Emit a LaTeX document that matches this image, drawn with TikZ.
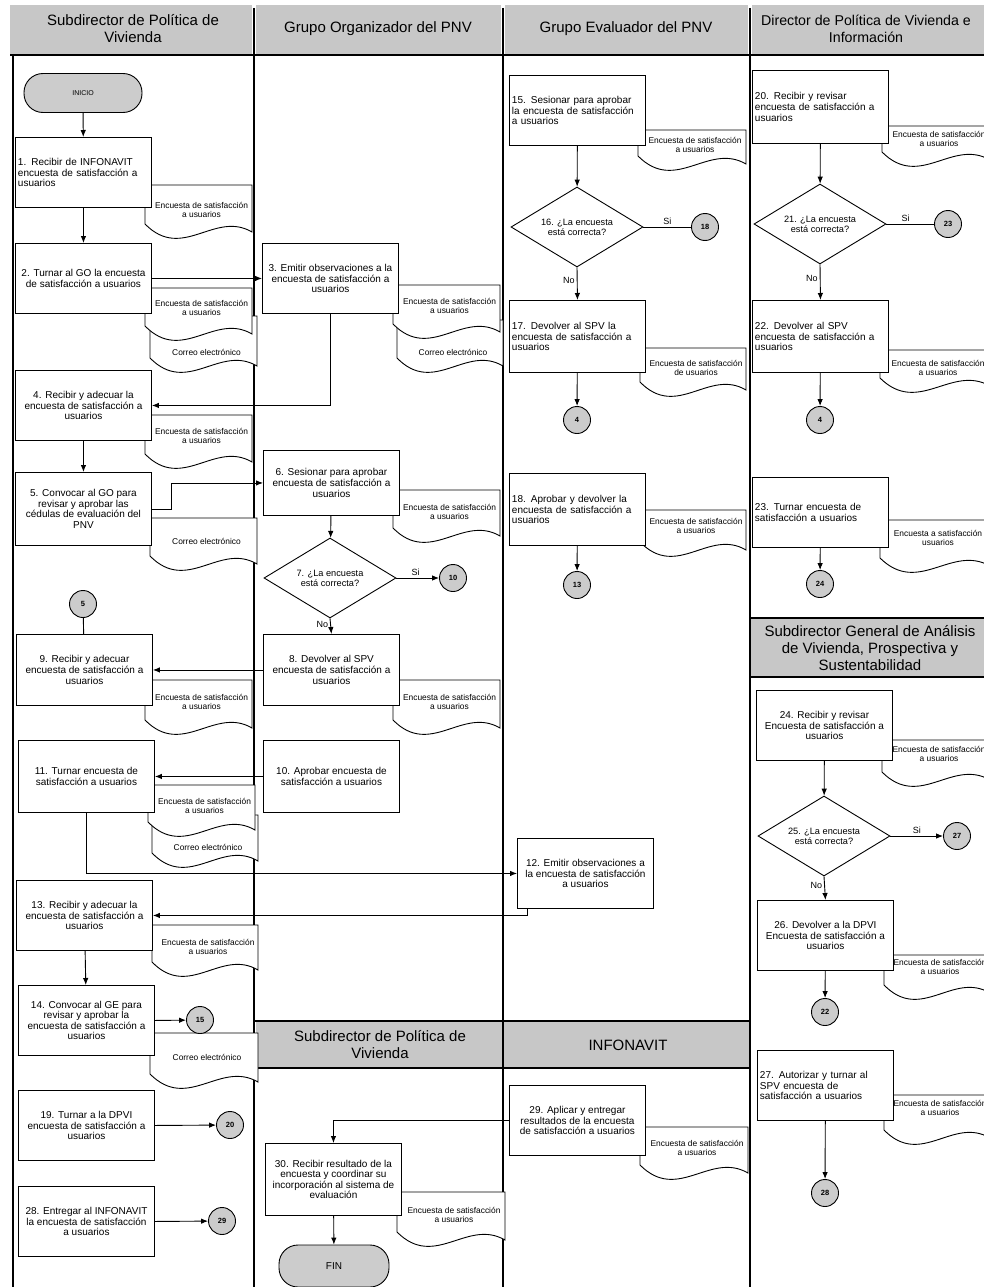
\documentclass[tikz,border=0pt]{standalone}
\usepackage{fontspec}
\setmainfont{Liberation Sans}
\usetikzlibrary{arrows.meta,shapes.geometric}
\tikzset{
 lane/.style={line width=1.3pt},
 proc/.style={draw, line width=0.9pt, fill=white, anchor=north west, minimum width=136pt, minimum height=70pt, inner sep=2pt, align=center, font=\fontsize{10}{10.6}\selectfont},
 procl/.style={proc, align=left, text width=131pt},
 dec/.style={draw, line width=0.9pt, fill=white, diamond, aspect=1.6, minimum width=132pt, minimum height=80pt, inner sep=0pt, align=center, font=\fontsize{9.2}{10}\selectfont},
 conn/.style={draw, circle, line width=0.9pt, fill=black!20, minimum size=27pt, inner sep=0pt, font=\fontsize{7.5}{8}\selectfont\bfseries},
 term/.style={draw, line width=0.9pt, fill=black!20, rounded corners=19pt, minimum width=118pt, minimum height=39pt},
 docline/.style={draw, line width=0.9pt, fill=white},
 doctext/.style={font=\fontsize{8.4}{9.2}\selectfont, align=center, inner sep=0pt},
 arr/.style={line width=0.9pt, -{Latex[length=7pt,width=5.5pt]}},
 ln/.style={line width=0.9pt},
 hdr/.style={fill=black!22},
 hdrtext/.style={font=\fontsize{15}{17}\selectfont, align=center, inner sep=0pt},
 lbl/.style={font=\fontsize{9}{10}\selectfont, inner sep=2pt}
}
% name, x1, y1, x2, yb, ty, text
\newcommand{\docu}[7]{%
 \path[docline] (#2,#3) -- (#4,#3) -- (#4,#5+8) .. controls ({#2+0.65*(#4-#2)},#5-14) and ({#2+0.35*(#4-#2)},#5+38) .. (#2,#5) -- cycle;
 \node[doctext] (#1) at ({(#2+#4)/2+3},#6) {#7};
}
\newcommand{\ES}{Encuesta de satisfacción\\a usuarios}
\newcommand{\CE}{Correo electrónico}
\begin{document}
\begin{tikzpicture}[x=1pt,y=-1pt]
\useasboundingbox (0,0) rectangle (984,1287);
\clip (0,0) rectangle (984,1287);
\fill[white] (0,0) rectangle (984,1287);

% ---------- headers ----------
\fill[hdr] (10,5) rectangle (252,54);
\fill[hdr] (256,5) rectangle (501,54);
\fill[hdr] (505,5) rectangle (748,54);
\fill[hdr] (752,5) rectangle (984,54);
\node[hdrtext] (h1) at (133,29) {Subdirector de Política de\\Vivienda};
\node[hdrtext] (h2) at (378,29) {Grupo Organizador del PNV};
\node[hdrtext] (h3) at (626,29) {Grupo Evaluador del PNV};
\node[hdrtext, font=\fontsize{14.2}{17}\selectfont] (h4) at (866,29) {Director de Política de Vivienda e\\Información};
\draw[line width=1.6pt] (10,55) -- (984,55);
\draw[line width=2.6pt] (13,55) -- (13,1287);
\draw[lane] (254,8) -- (254,1287);
\draw[lane] (503,8) -- (503,1287);
\draw[lane] (750,8) -- (750,1287);

% lower headers
\fill[hdr] (256,1022) rectangle (502,1067);
\fill[hdr] (504,1022) rectangle (749,1067);
\draw[line width=1.6pt] (254,1021) -- (750,1021);
\draw[line width=1.6pt] (254,1068) -- (750,1068);
\node[hdrtext] (h5) at (380,1045) {Subdirector de Política de\\Vivienda};
\node[hdrtext] (h6) at (628,1045) {INFONAVIT};
\fill[hdr] (751,619) rectangle (984,676);
\draw[line width=1.6pt] (750,618) -- (984,618);
\draw[line width=1.6pt] (750,677) -- (984,677);
\node[hdrtext] (h7) at (870,648) {Subdirector General de Análisis\\de Vivienda, Prospectiva y\\Sustentabilidad};

% ---------- documents ----------
\docu{dc1}{145}{185}{252}{224}{210}{\ES}
\docu{dc2b}{150}{316}{257}{358}{352}{\CE}
\docu{dc2a}{145}{288}{252}{326}{308}{\ES}
\docu{dc4}{145}{415}{252}{454}{436}{\ES}
\docu{dc5}{150}{518}{257}{556}{541}{\CE}
\docu{dc9}{145}{680}{252}{720}{702}{\ES}
\docu{dc11b}{152}{815}{258}{853}{847}{\CE}
\docu{dc11a}{148}{785}{255}{822}{806}{\ES}
\docu{dc13}{152}{925}{258}{962}{947}{\ES}
\docu{dc14}{150}{1033}{258}{1074}{1057}{\CE}
\docu{dc3b}{397}{320}{503}{358}{352}{\CE}
\docu{dc3a}{393}{285}{500}{324}{306}{\ES}
\docu{dc6}{393}{490}{500}{528}{512}{\ES}
\docu{dc8}{393}{680}{500}{720}{702}{\ES}
\docu{dc30}{397}{1192}{505}{1232}{1215}{\ES}
\docu{dc15}{638}{130}{746}{156}{145}{\ES}
\docu{dc17}{640}{348}{746}{382}{368}{Encuesta de satisfacción\\de usuarios}
\docu{dc18}{640}{510}{746}{542}{526}{\ES}
\docu{dc29}{640}{1127}{748}{1165}{1148}{\ES}
\docu{dc20}{882}{126}{990}{152}{139}{\ES}
\docu{dc22}{880}{350}{990}{378}{368}{\ES}
\docu{dc23}{880}{520}{990}{558}{538}{Encuesta a satisfacción\\usuarios}
\docu{dc24}{882}{740}{990}{772}{754}{\ES}
\docu{dc26}{884}{955}{990}{985}{967}{\ES}
\docu{dc27}{884}{1095}{990}{1130}{1108}{\ES}

% ---------- lane 1 ----------
\node[term, font=\fontsize{7}{8}\selectfont] (inicio) at (83,93) {INICIO};
\node[procl] (b1) at (15,137) {1. Recibir de INFONAVIT\\encuesta de satisfacción a\\usuarios};
\node[proc] (b2) at (15,243) {2. Turnar al GO la encuesta\\de satisfacción a usuarios};
\node[proc] (b4) at (15,370) {4. Recibir y adecuar  la\\encuesta de satisfacción a\\usuarios};
\node[proc, minimum height=73pt] (b5) at (15,472) {5. Convocar al GO para\\revisar y aprobar las\\cédulas de evaluación del\\PNV};
\node[conn] (c5) at (83,604) {5};
\node[proc, minimum height=71pt] (b9) at (16,634) {9. Recibir y adecuar\\encuesta de satisfacción a\\usuarios};
\node[proc, minimum height=72pt] (b11) at (18,740) {11. Turnar encuesta de\\satisfacción a usuarios};
\node[proc] (b13) at (16,880) {13. Recibir y adecuar  la\\encuesta de satisfacción a\\usuarios};
\node[proc] (b14) at (18,985) {14. Convocar al GE para\\revisar y aprobar la\\encuesta de satisfacción a\\usuarios};
\node[conn] (c15) at (200,1020) {15};
\node[proc] (b19) at (18,1090) {19. Turnar  a la DPVI\\encuesta de satisfacción a\\usuarios};
\node[conn] (c20) at (230,1125) {20};
\node[proc] (b28) at (18,1186) {28. Entregar al INFONAVIT\\la encuesta de satisfacción\\a usuarios};
\node[conn] (c29) at (222,1221) {29};

% ---------- lane 2 ----------
\node[proc] (b3) at (262,243) {3. Emitir observaciones a la\\encuesta de satisfacción a\\usuarios};
\node[proc, minimum height=65pt] (b6) at (263,450) {6. Sesionar para aprobar\\encuesta de satisfacción a\\usuarios};
\node[dec] (d7) at (330,578) {7. ¿La encuesta\\está correcta?};
\node[conn] (c10) at (453,578) {10};
\node[proc, minimum height=71pt] (b8) at (263,634) {8. Devolver al SPV\\encuesta de satisfacción a\\usuarios};
\node[proc, minimum height=72pt] (b10) at (263,740) {10. Aprobar encuesta de\\satisfacción a usuarios};
\node[proc, minimum height=72pt] (b30) at (265,1143) {30. Recibir resultado de la\\encuesta y coordinar su\\incorporación al sistema de\\evaluación};
\node[term, minimum width=110pt, minimum height=42pt, font=\fontsize{10}{12}\selectfont] (fin) at (334,1266) {FIN};

% ---------- lane 3 ----------
\node[procl] (b15) at (509,75) {15. Sesionar para aprobar\\la encuesta de satisfacción\\a usuarios};
\node[dec] (d16) at (577,227) {16. ¿La encuesta\\está correcta?};
\node[conn] (c18) at (705,227) {18};
\node[procl, minimum height=72pt] (b17) at (509,300) {17. Devolver  al SPV  la\\encuesta de satisfacción a\\usuarios};
\node[conn] (c4a) at (577,420) {4};
\node[procl, minimum height=72pt] (b18) at (509,473) {18. Aprobar y devolver la\\encuesta de satisfacción a\\usuarios\\[8pt]};
\node[conn] (c13) at (577,585) {13};
\node[proc] (b12) at (517,838) {12. Emitir observaciones a\\la encuesta de satisfacción\\a usuarios};
\node[proc] (b29) at (509,1085) {29. Aplicar y entregar\\resultados de la encuesta\\de satisfacción a usuarios};

% ---------- lane 4 ----------
\node[procl, minimum height=73pt] (b20) at (752,70) {20. Recibir y revisar\\encuesta de satisfacción a\\usuarios};
\node[dec] (d21) at (820,224) {21. ¿La encuesta\\está correcta?};
\node[conn] (c23) at (948,224) {23};
\node[procl, minimum height=72pt] (b22) at (752,300) {22. Devolver al SPV\\encuesta de satisfacción a\\usuarios};
\node[conn] (c4b) at (820,420) {4};
\node[procl] (b23) at (752,477) {23. Turnar  encuesta de\\satisfacción a usuarios};
\node[conn] (c24) at (820,584) {24};
\node[proc] (b24) at (756,690) {24. Recibir y revisar\\Encuesta de satisfacción a\\usuarios};
\node[dec] (d25) at (824,836) {25. ¿La encuesta\\está correcta?};
\node[conn] (c27) at (957,836) {27};
\node[proc] (b26) at (757,900) {26. Devolver a la DPVI\\Encuesta de satisfacción a\\usuarios};
\node[conn] (c22) at (825,1012) {22};
\node[procl] (b27) at (757,1050) {27. Autorizar y turnar al\\SPV encuesta de\\satisfacción a usuarios};
\node[conn] (c28) at (825,1193) {28};

% ---------- connectors ----------
\draw[arr] (inicio) -- (b1);
\draw[arr] (b1) -- (b2);
\draw[arr] (b2.east) -- (b3.west);
\draw[arr] (b3.south) |- (b4.east);
\draw[arr] (b4) -- (b5);
\draw[arr] (b5.east) -- ++(20,0) |- (b6.west);
\draw[arr] (b6) -- (d7);
\draw[arr] (d7.east) -- node[lbl, above, pos=0.45] {Si} (c10);
\draw[arr] (d7.south) -- node[lbl, left, pos=0.4] {No} (b8.north);
\draw[arr] (b8.west) -- (b9.east);
\draw[ln] (c5) -- (b9);
\draw[arr] (b10.west) -- (b11.east);
\draw[arr] (b11.south) |- (b12.west);
\draw[arr] ([xshift=10pt]b12.south west) |- (b13.east);
\draw[arr] (b13) -- (b14);
\draw[arr] (b14.east) -- (c15);
\draw[arr] (b19.east) -- (c20);
\draw[arr] (b28.east) -- (c29);
\draw[arr] (b15) -- (d16);
\draw[ln] (d16.east) -- node[lbl, above, pos=0.5] {Si} (c18);
\draw[arr] (d16.south) -- node[lbl, left, pos=0.4] {No} (b17.north);
\draw[arr] (b17) -- (c4a);
\draw[arr] (b18) -- (c13);
\draw[arr] (b29.west) -| (b30.north);
\draw[arr] (b30) -- (fin);
\draw[arr] (b20) -- (d21);
\draw[ln] (d21.east) -- node[lbl, above, pos=0.4] {Si} (c23);
\draw[arr] (d21.south) -- node[lbl, left, pos=0.4] {No} (b22.north);
\draw[arr] (b22) -- (c4b);
\draw[arr] (b23) -- (c24);
\draw[arr] (b24) -- (d25);
\draw[arr] (d25.east) -- node[lbl, above, pos=0.5] {Si} (c27);
\draw[arr] (d25.south) -- node[lbl, left, pos=0.4] {No} (b26.north);
\draw[arr] (b26) -- (c22);
\draw[arr] (b27) -- (c28);
\end{tikzpicture}
\end{document}
